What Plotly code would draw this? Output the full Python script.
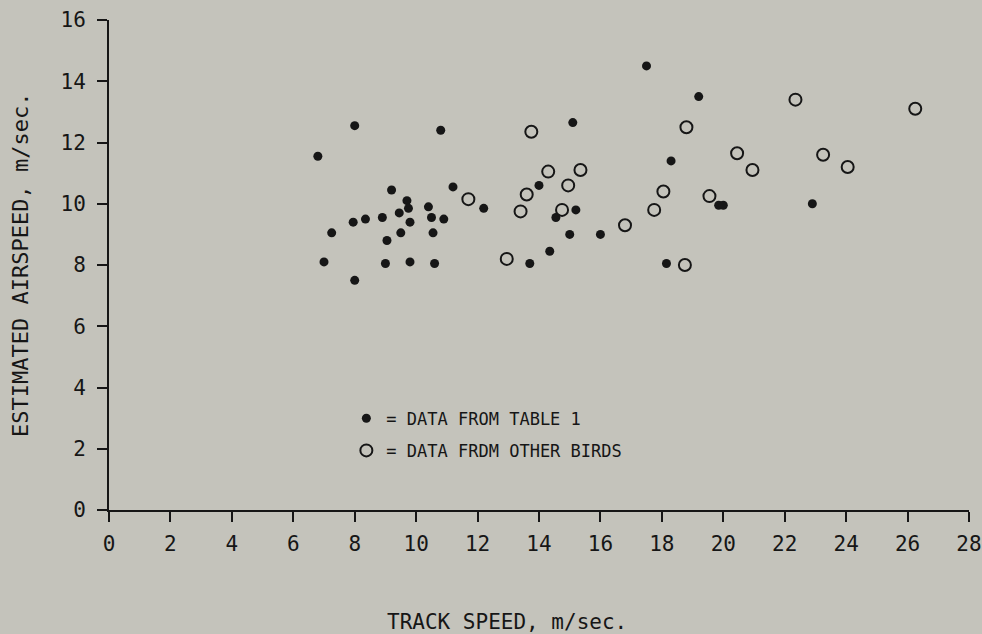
"""Estimated airspeed versus track speed scatter plot."""

import plotly.graph_objects as go

# Filled dots: data from Table 1
table_x = [
    8.0, 10.8, 6.8, 15.1, 9.2, 11.2, 9.7, 9.75, 9.45, 10.4, 12.2, 14.0,
    7.95, 8.35, 8.9, 9.8, 10.5, 10.9, 7.25, 9.5, 10.55, 9.05, 7.0, 9.0,
    9.8, 10.6, 8.0, 15.2, 14.55, 15.0, 16.0, 14.35, 13.7, 17.5, 19.2,
    18.3, 19.85, 20.0, 22.9, 18.15,
]
table_y = [
    12.55, 12.4, 11.55, 12.65, 10.45, 10.55, 10.1, 9.85, 9.7, 9.9, 9.85,
    10.6, 9.4, 9.5, 9.55, 9.4, 9.55, 9.5, 9.05, 9.05, 9.05, 8.8, 8.1,
    8.05, 8.1, 8.05, 7.5, 9.8, 9.55, 9.0, 9.0, 8.45, 8.05, 14.5, 13.5,
    11.4, 9.95, 9.95, 10.0, 8.05,
]

# Open circles: data from other birds
other_x = [
    13.75, 14.3, 15.35, 14.95, 13.6, 11.7, 13.4, 14.75, 16.8, 12.95,
    22.35, 26.25, 18.8, 20.45, 20.95, 23.25, 24.05, 18.05, 19.55, 17.75,
    18.75,
]
other_y = [
    12.35, 11.05, 11.1, 10.6, 10.3, 10.15, 9.75, 9.8, 9.3, 8.2,
    13.4, 13.1, 12.5, 11.65, 11.1, 11.6, 11.2, 10.4, 10.25, 9.8,
    8.0,
]

x_ticks = list(range(0, 29, 2))
y_ticks = list(range(0, 17, 2))

FONT = "DejaVu Sans Mono, Liberation Mono, monospace"
INK = "#161616"
PAPER = "#c4c3bb"

fig = go.Figure()

fig.add_trace(
    go.Scatter(
        x=table_x,
        y=table_y,
        mode="markers",
        name="= DATA FROM TABLE 1",
        legendgroup="a",
        marker=dict(symbol="circle", size=9, color=INK),
    )
)
fig.add_trace(
    go.Scatter(
        x=other_x,
        y=other_y,
        mode="markers",
        name="= DATA FRDM OTHER BIRDS",
        legendgroup="b",
        marker=dict(
            symbol="circle-open", size=12, color=INK,
            line=dict(width=2, color=INK),
        ),
    )
)

axis_common = dict(
    showgrid=False,
    zeroline=False,
    showline=True,
    linecolor=INK,
    linewidth=2,
    ticks="outside",
    ticklen=10,
    tickwidth=2,
    tickcolor=INK,
    automargin=False,
    tickfont=dict(family=FONT, size=21, color=INK),
)

fig.update_xaxes(range=[0, 28], tickvals=x_ticks, ticklabelstandoff=4, **axis_common)
fig.update_yaxes(range=[0, 16], tickvals=y_ticks, ticklabelstandoff=7, **axis_common)

# Axis titles placed as in the scanned figure (x title sits left of centre)
fig.add_annotation(
    text="TRACK SPEED, m/sec.",
    xref="paper", yref="paper",
    x=0.463, y=-0.2286,
    xanchor="center", yanchor="middle",
    showarrow=False,
    font=dict(family=FONT, size=21, color=INK),
)
fig.add_annotation(
    text="ESTIMATED AIRSPEED, m/sec.",
    xref="paper", yref="paper",
    x=-0.1035, y=0.5,
    xanchor="center", yanchor="middle",
    textangle=-90,
    showarrow=False,
    font=dict(family=FONT, size=22, color=INK),
)

fig.update_layout(
    width=982,
    height=634,
    margin=dict(l=109, r=13, t=20, b=124),
    paper_bgcolor=PAPER,
    plot_bgcolor=PAPER,
    font=dict(family=FONT, color=INK),
    showlegend=True,
    legend=dict(
        x=0.276,
        y=0.223,
        xanchor="left",
        yanchor="top",
        bgcolor="rgba(0,0,0,0)",
        font=dict(family=FONT, size=17, color=INK),
        tracegroupgap=7,
        itemwidth=30,
    ),
)

fig.write_html(
    "out.html",
    config={"displayModeBar": False},
    post_script="document.body.style.margin='0';document.body.style.background='%s';" % PAPER,
)
